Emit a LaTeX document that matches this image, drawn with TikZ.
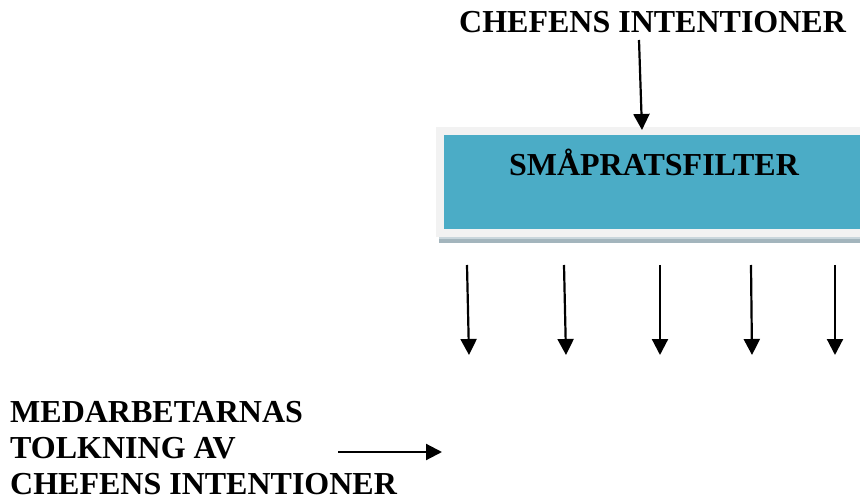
\documentclass[tikz,border=0pt]{standalone}
\usepackage{fontspec}
\setmainfont{Liberation Serif}
\usetikzlibrary{arrows.meta}
\definecolor{teal5}{HTML}{4BACC6}
\definecolor{frame5}{HTML}{F2F2F2}
\definecolor{shadow5}{HTML}{A3B5BD}
\definecolor{shadowlt}{HTML}{C9D6DC}
\tikzset{
  lbl/.style={font=\fontsize{32}{36}\selectfont\bfseries, inner sep=0pt, anchor=base west},
  arr/.style={line width=2.2pt, -{Triangle[width=16pt,length=16pt]}},
  fillbox/.style={rectangle, inner sep=0pt, draw=none}
}
\begin{document}
\begin{tikzpicture}[x=1pt,y=-1pt]
\useasboundingbox (0,0) rectangle (860,497);
% box
\node[fillbox, fill=shadow5, minimum width=421pt, minimum height=6pt] (shadow) at (649.5,240) {};
\node[fillbox, fill=shadowlt, minimum width=421pt, minimum height=1.5pt] (shadowline) at (649.5,238.2) {};
\node[fillbox, fill=frame5, minimum width=424pt, minimum height=110pt] (outer) at (648,182) {};
\node[fillbox, fill=teal5, minimum width=416pt, minimum height=94pt] (inner) at (652,182) {};
\node[lbl, anchor=base] (filter) at (654,176) {SMÅPRATSFILTER};
% top text
\node[lbl] (chef) at (459,33) {CHEFENS INTENTIONER};
\coordinate (c0) at (639,40);
\coordinate (c1) at (642,130);
\draw[arr] (c0) -- (c1);
% down arrows
\foreach \i/\xa/\xb in {1/467/469, 2/564/566, 3/660/660, 4/751/752, 5/835/835}{
  \coordinate (d\i s) at (\xa,265);
  \coordinate (d\i e) at (\xb,355);
  \draw[arr] (d\i s) -- (d\i e);
}
% bottom-left text
\node[lbl] (m1) at (10,422) {MEDARBETARNAS};
\node[lbl] (m2) at (10,458) {TOLKNING AV};
\node[lbl] (m3) at (10,494) {CHEFENS INTENTIONER};
\coordinate (l0) at (338,452);
\coordinate (l1) at (442,452);
\draw[arr] (l0) -- (l1);
\end{tikzpicture}
\end{document}
